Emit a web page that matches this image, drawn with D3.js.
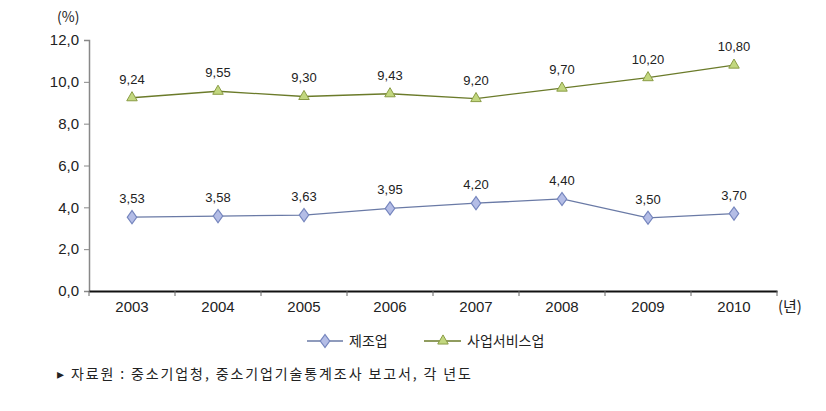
<!DOCTYPE html>
<html><head><meta charset="utf-8">
<script src="https://cdn.jsdelivr.net/npm/d3@7"></script>
<style>body{margin:0;background:#fff;} svg{display:block;font-family:"Noto Sans CJK KR","Noto Sans",sans-serif;}</style>
</head><body>
<svg id="c" width="826" height="411"></svg>
<script>
const years = ["2003","2004","2005","2006","2007","2008","2009","2010"];
const manufacturing = [3.53,3.58,3.63,3.95,4.20,4.40,3.50,3.70];
const services = [9.24,9.55,9.30,9.43,9.20,9.70,10.20,10.80];
const manLabels = ["3,53","3,58","3,63","3,95","4,20","4,40","3,50","3,70"];
const svcLabels = ["9,24","9,55","9,30","9,43","9,20","9,70","10,20","10,80"];
const yTicks = [0,2,4,6,8,10,12];
const seriesNames = ["제조업","사업서비스업"];

const svg = d3.select("#c");
const x = d3.scaleBand().domain(years).range([89,777]);
const y = d3.scaleLinear().domain([0,12]).range([291,40]);
const fmt = d => d.toFixed(1).replace(".",",");
const numFont = "Arial, 'Liberation Sans', sans-serif";

// y axis
const ya = svg.append("g").attr("transform","translate(89,0)")
  .call(d3.axisLeft(y).tickValues(yTicks).tickFormat(fmt).tickSizeOuter(0).tickSize(5).tickPadding(5));
ya.select(".domain").attr("stroke","#888").attr("stroke-width",1.5);
ya.selectAll(".tick line").attr("stroke","#888");
ya.selectAll("text").attr("font-size",15).attr("fill","#222").attr("font-family",numFont);

// x axis
const xa = svg.append("g").attr("transform","translate(0,291)")
  .call(d3.axisBottom(x).tickSize(0).tickPadding(10));
xa.select(".domain").attr("stroke","#111").attr("stroke-width",2);
xa.selectAll("text").attr("font-size",15).attr("fill","#222").attr("font-family",numFont);
const bounds = years.map(d=>x(d)).concat([x.range()[1]]);
xa.selectAll(".bt").data(bounds).enter().append("line").attr("class","bt")
  .attr("x1",d=>d).attr("x2",d=>d).attr("y1",0).attr("y2",5).attr("stroke","#666");

svg.append("text").attr("x",57).attr("y",22).attr("font-size",14).attr("fill","#222").text("(%)");
svg.append("text").attr("x",778).attr("y",312).attr("font-size",15).attr("fill","#222").text("(년)");

const cx = d => x(d)+x.bandwidth()/2;
const line = d3.line().x((d,i)=>cx(years[i])).y(d=>y(d));

const manColor = "#6a7aa6", svcColor = "#6b7b2a";
svg.append("path").datum(manufacturing).attr("d",line).attr("fill","none").attr("stroke",manColor).attr("stroke-width",1.3);
svg.append("path").datum(services).attr("d",line).attr("fill","none").attr("stroke",svcColor).attr("stroke-width",1.3);

const diamond = d3.symbol().type(d3.symbolDiamond).size(50);
const tri = d3.symbol().type(d3.symbolTriangle).size(48);
svg.selectAll(".mm").data(manufacturing).enter().append("path")
  .attr("transform",(d,i)=>`translate(${cx(years[i])},${y(d)}) scale(1.25,1)`)
  .attr("d",diamond).attr("fill","#b4bde6").attr("stroke","#7585bd").attr("stroke-width",1);
svg.selectAll(".sm").data(services).enter().append("path")
  .attr("transform",(d,i)=>`translate(${cx(years[i])},${y(d)})`)
  .attr("d",tri).attr("fill","#c2d77f").attr("stroke","#8a9c45").attr("stroke-width",1);

svg.selectAll(".ml").data(manufacturing).enter().append("text")
  .attr("x",(d,i)=>cx(years[i])).attr("y",d=>y(d)-14).attr("text-anchor","middle")
  .attr("font-size",13).attr("fill","#222").attr("font-family",numFont).text((d,i)=>manLabels[i]);
svg.selectAll(".sl").data(services).enter().append("text")
  .attr("x",(d,i)=>cx(years[i])).attr("y",d=>y(d)-14).attr("text-anchor","middle")
  .attr("font-size",13).attr("fill","#222").attr("font-family",numFont).text((d,i)=>svcLabels[i]);

// legend
const lg = svg.append("g");
lg.append("line").attr("x1",307).attr("x2",343).attr("y1",341).attr("y2",341).attr("stroke",manColor).attr("stroke-width",1.3);
lg.append("path").attr("transform","translate(325,341) scale(1.25,1)").attr("d",diamond).attr("fill","#b4bde6").attr("stroke","#7585bd");
lg.append("text").attr("x",349).attr("y",346).attr("font-size",14).attr("fill","#222").text(seriesNames[0]);
lg.append("line").attr("x1",424).attr("x2",461).attr("y1",341).attr("y2",341).attr("stroke",svcColor).attr("stroke-width",1.3);
lg.append("path").attr("transform","translate(443,341)").attr("d",tri).attr("fill","#c2d77f").attr("stroke","#8a9c45");
lg.append("text").attr("x",467).attr("y",346).attr("font-size",14).attr("fill","#222").text(seriesNames[1]);

// source
svg.append("text").attr("x",57).attr("y",379).attr("font-size",14).attr("fill","#222")
  .attr("textLength",414).attr("lengthAdjust","spacing")
  .text("▸ 자료원 : 중소기업청, 중소기업기술통계조사 보고서, 각 년도");
</script>
</body></html>
